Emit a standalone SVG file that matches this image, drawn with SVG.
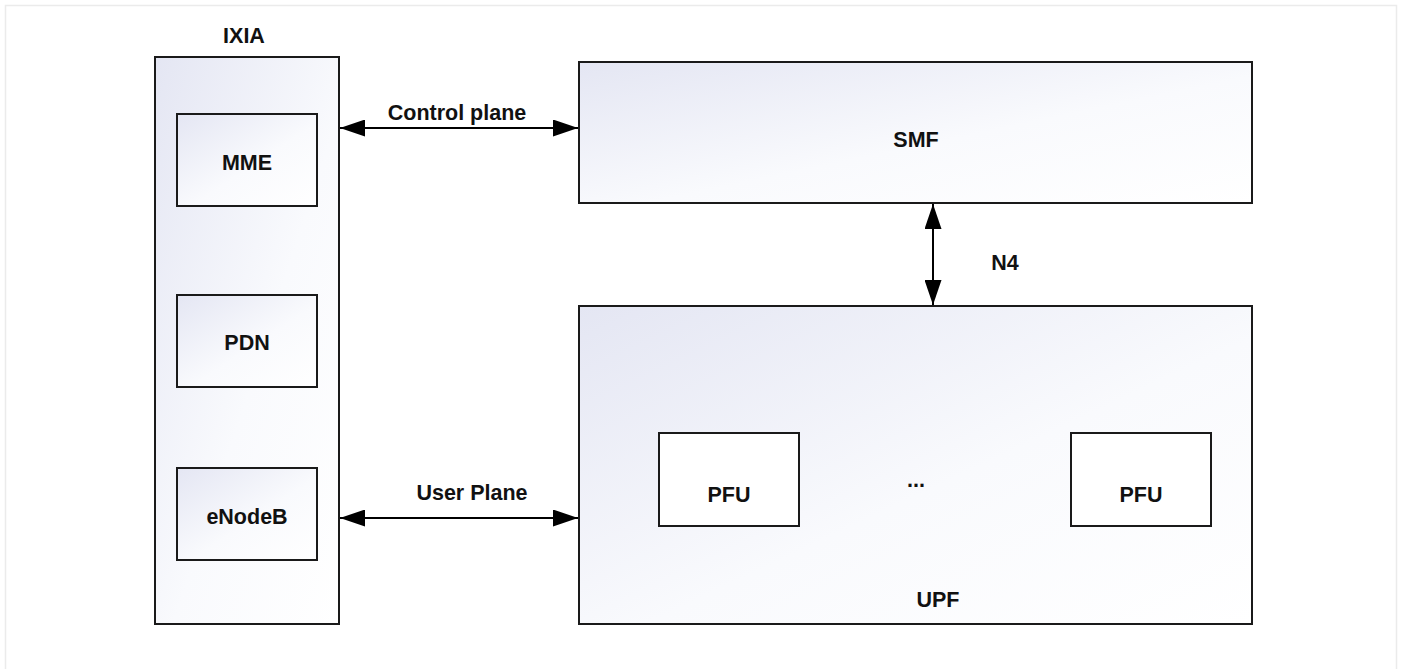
<svg xmlns="http://www.w3.org/2000/svg" width="1401" height="669" viewBox="0 0 1401 669">
<style>
.box{stroke:#1a1a1a;stroke-width:2;fill:url(#g)}
.wbox{stroke:#1a1a1a;stroke-width:2;fill:#ffffff}
.t{font-family:"Liberation Sans",Arial,sans-serif;font-weight:bold;font-size:21.5px;fill:#111;text-anchor:middle}
.ln{stroke:#000;stroke-width:2;fill:none}
</style>
<defs>
<linearGradient id="g" x1="0" y1="0" x2="1" y2="1">
<stop offset="0" stop-color="#e4e6f3"/>
<stop offset="0.55" stop-color="#f9fafd"/>
<stop offset="1" stop-color="#ffffff"/>
</linearGradient>
<marker id="ah" viewBox="0 0 25 17" refX="25" refY="8.5" markerWidth="25" markerHeight="17" markerUnits="userSpaceOnUse" orient="auto-start-reverse">
<path d="M0,0 L25,8.5 L0,17 Z" fill="#000"/>
</marker>
</defs>
<rect x="5.5" y="5.5" width="1391" height="680" fill="#fff" stroke="#ebebeb" stroke-width="1.5"/>
<g id="ixia">
<rect class="box" x="155" y="57" width="184" height="567"/>
<text class="t" x="244" y="43">IXIA</text>
</g>
<g id="mme">
<rect class="box" x="177" y="114" width="140" height="92"/>
<text class="t" x="247" y="170">MME</text>
</g>
<g id="pdn">
<rect class="box" x="177" y="295" width="140" height="92"/>
<text class="t" x="247" y="350">PDN</text>
</g>
<g id="enodeb">
<rect class="box" x="177" y="468" width="140" height="92"/>
<text class="t" x="247" y="524">eNodeB</text>
</g>
<g id="smf">
<rect class="box" x="579" y="62" width="673" height="141"/>
<text class="t" x="916" y="147">SMF</text>
</g>
<g id="upf">
<rect class="box" x="579" y="306" width="673" height="318"/>
<text class="t" x="938" y="607">UPF</text>
<text class="t" x="916" y="487">...</text>
</g>
<g id="pfu1">
<rect class="wbox" x="659" y="433" width="140" height="93"/>
<text class="t" x="729" y="502">PFU</text>
</g>
<g id="pfu2">
<rect class="wbox" x="1071" y="433" width="140" height="93"/>
<text class="t" x="1141" y="502">PFU</text>
</g>
<g id="connectors">
<line class="ln" x1="340" y1="128" x2="578" y2="128" marker-start="url(#ah)" marker-end="url(#ah)"/>
<text class="t" x="457" y="120">Control plane</text>
<line class="ln" x1="340" y1="518" x2="578" y2="518" marker-start="url(#ah)" marker-end="url(#ah)"/>
<text class="t" x="472" y="500">User Plane</text>
<line class="ln" x1="933" y1="204" x2="933" y2="305" marker-start="url(#ah)" marker-end="url(#ah)"/>
<text class="t" x="1005" y="270">N4</text>
</g>
</svg>
